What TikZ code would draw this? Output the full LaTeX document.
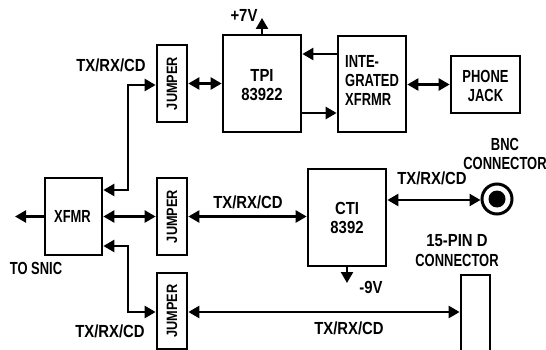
\documentclass[tikz,border=0pt]{standalone}
\usepackage{fontspec}
\setmainfont[FakeStretch=0.85]{Liberation Sans}
\newfontfamily\narrowfont[FakeStretch=0.74]{Liberation Sans}
\usetikzlibrary{arrows.meta}
\begin{document}
\begin{tikzpicture}[x=1pt,y=-1pt,
  box/.style={draw, line width=2.7pt, inner sep=0pt},
  lbl/.style={inner sep=0pt, font=\fontsize{17.5}{19}\selectfont\bfseries, align=center},
  nlbl/.style={inner sep=0pt, font=\fontsize{17.5}{19}\selectfont\bfseries\narrowfont, align=center},
  jlbl/.style={inner sep=0pt, rotate=90, font=\fontsize{15}{17}\selectfont\bfseries},
  conn/.style={line width=2.4pt, {Triangle[length=11pt,width=12pt]}-{Triangle[length=11pt,width=12pt]}},
  oneway/.style={line width=2.4pt, -{Triangle[length=11pt,width=12pt]}}
]
\useasboundingbox (0,0) rectangle (546,350);
\clip (0,0) rectangle (546,350);

% boxes
\node[box, minimum width=30pt, minimum height=77pt] (j1) at (172,83.5) {};
\node[jlbl] (j1t) at (j1) {JUMPER};
\node[box, minimum width=78pt, minimum height=97pt] (tpi) at (262,83.5) {};
\node[lbl] (tpit) at (262,85.5) {TPI\\83922};
\node[box, minimum width=68pt, minimum height=96pt] (ixf) at (372,84) {};
\node[nlbl, align=left, anchor=west] (ixft) at (345,80) {INTE-\\GRATED\\XFRMR};
\node[box, minimum width=69pt, minimum height=57pt] (phone) at (485.5,84.5) {};
\node[nlbl] (phonet) at (485.5,85.5) {PHONE\\JACK};

\node[box, minimum width=57pt, minimum height=77pt] (xfmr) at (73.5,216.5) {};
\node[nlbl] (xfmrt) at (72.5,216.5) {XFMR};
\node[box, minimum width=30pt, minimum height=77pt] (j2) at (172,216.5) {};
\node[jlbl] (j2t) at (j2) {JUMPER};
\node[box, minimum width=78pt, minimum height=97pt] (cti) at (347,217.5) {};
\node[lbl] (ctit) at (347,218) {CTI\\8392};
\node[box, minimum width=30pt, minimum height=76pt] (j3) at (172,311) {};
\node[jlbl] (j3t) at (j3) {JUMPER};
\node[box, minimum width=29pt, minimum height=115pt] (dconn) at (475.5,332.5) {};

\node[circle, draw, line width=3pt, minimum size=30pt, inner sep=0pt] (bnc) at (497,199) {};
\fill (bnc.center) circle (8.5pt);

% coordinates
\coordinate (snic) at (15,216.5);
\coordinate (up7) at (262,18);
\coordinate (dn9) at (347,283);

% connectors
\draw[conn] (j1.east) -- (tpi.west |- j1.east);
\draw[oneway] (ixf.west |- 0,54) -- (tpi.east |- 0,54);
\draw[oneway] (tpi.east |- 0,113) -- (ixf.west |- 0,113);
\draw[conn] (ixf.east |- phone.west) -- (phone.west);
\draw[conn] (xfmr.east |- 0,190) -- (128,190) -- (128,85) -- (j1.west |- 0,85);
\draw[conn] (xfmr.east) -- (j2.west);
\draw[conn] (xfmr.east |- 0,246) -- (128,246) -- (128,312) -- (j3.west |- 0,312);
\draw[oneway] (xfmr.west) -- (snic);
\draw[conn] (j2.east) -- (cti.west |- j2.east);
\draw[conn] (cti.east |- 0,200) -- (bnc.west |- 0,200);
\draw[conn] (j3.east |- 0,312) -- (dconn.west |- 0,312);
\draw[oneway] (tpi.north) -- (up7);
\draw[oneway] (cti.south) -- (dn9);

% labels
\node[lbl] (l7) at (244,15) {+7V};
\node[lbl] (l9) at (371,287) {-9V};
\node[lbl] (tx1) at (111,65) {TX/RX/CD};
\node[lbl] (tx2) at (248,202) {TX/RX/CD};
\node[lbl] (tx3) at (432,178) {TX/RX/CD};
\node[lbl] (tx4) at (110,331) {TX/RX/CD};
\node[lbl] (tx5) at (349,328) {TX/RX/CD};
\node[nlbl] (snict) at (36,268) {TO SNIC};
\node[nlbl] (bnct) at (505,153.5) {BNC\\CONNECTOR};
\node[lbl] (dct) at (457,241) {15-PIN D};
\node[nlbl] (dct2) at (457,260) {CONNECTOR};
\end{tikzpicture}
\end{document}
